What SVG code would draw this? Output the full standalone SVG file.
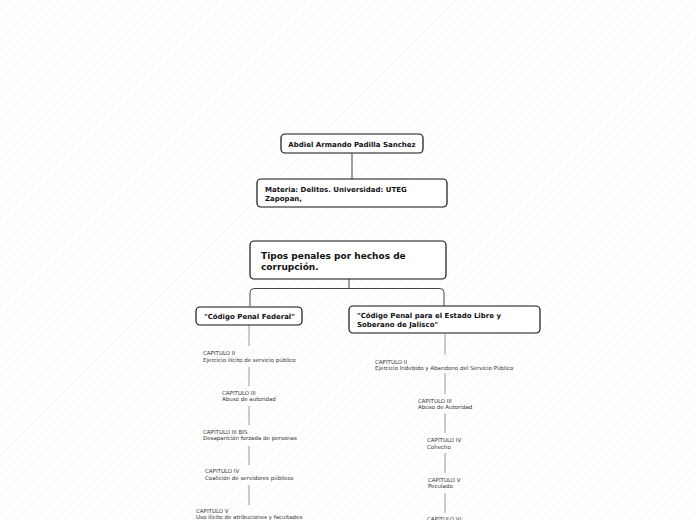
<svg xmlns="http://www.w3.org/2000/svg" width="696" height="520" viewBox="0 0 696 520">
<defs>
<pattern id="hatch" width="7" height="7" patternUnits="userSpaceOnUse" patternTransform="rotate(45)">
<rect width="7" height="7" fill="#ffffff"/>
<line x1="0" y1="0" x2="0" y2="7" stroke="#f6f6f6" stroke-width="1.6"/>
</pattern>
<style>
.box{fill:#ffffff;stroke:#111111;stroke-width:1.2}
.b{font-family:"DejaVu Sans",Verdana,sans-serif;font-weight:bold;fill:#111111}
.t{font-family:"DejaVu Sans",Verdana,sans-serif;font-size:5.5px;fill:#333333}
.main{fill:none;stroke:#444444;stroke-width:1}
.sub{fill:none;stroke:#999999;stroke-width:1}
</style>
</defs>
<rect width="696" height="520" fill="url(#hatch)"/>
<g id="connectors">
<path class="main" d="M352 153 V179"/>
<path class="main" d="M349 279 V288.5 M250 306 V292.5 Q250 288.5 254 288.5 H440 Q444 288.5 444 292.5 V306"/>
<path class="sub" d="M249 325 V346 M249 367 V386 M249 406 V425 M249 446 V465 M249 485 V505"/>
<path class="sub" d="M445 334 V355 M445 373 V394 M445 413 V433 M445 453 V473 M445 493 V513"/>
</g>
<g id="n-abdiel">
<rect class="box" x="281" y="134" width="142" height="19" rx="4"/>
<text class="b" x="352" y="146.5" font-size="7" text-anchor="middle">Abdiel Armando Padilla Sanchez</text>
</g>
<g id="n-materia">
<rect class="box" x="257" y="179" width="190" height="28" rx="4"/>
<text class="b" x="265" y="191.5" font-size="7">Materia: Delitos. Universidad: UTEG</text>
<text class="b" x="265" y="200.5" font-size="7">Zapopan,</text>
</g>
<g id="n-tipos">
<rect class="box" x="250" y="241" width="196" height="38" rx="4"/>
<text class="b" x="261" y="258.5" font-size="9">Tipos penales por hechos de</text>
<text class="b" x="261" y="269.5" font-size="9">corrupción.</text>
</g>
<g id="n-federal">
<rect class="box" x="196" y="307" width="106" height="18" rx="4"/>
<text class="b" x="204" y="318.5" font-size="7">"Código Penal Federal"</text>
</g>
<g id="n-jalisco">
<rect class="box" x="349" y="306" width="191" height="27" rx="4"/>
<text class="b" x="357" y="318" font-size="7">"Código Penal para el Estado Libre y</text>
<text class="b" x="357" y="326.5" font-size="7">Soberano de Jalisco"</text>
</g>
<g id="f-cap2"><text class="t" x="203" y="355">CAPITULO II</text><text class="t" x="203" y="361.5">Ejercicio ilícito de servicio público</text></g>
<g id="f-cap3"><text class="t" x="222" y="394.5">CAPITULO III</text><text class="t" x="222" y="401">Abuso de autoridad</text></g>
<g id="f-cap3bis"><text class="t" x="203" y="433.5">CAPITULO III BIS</text><text class="t" x="203" y="440">Desaparición forzada de personas</text></g>
<g id="f-cap4"><text class="t" x="205" y="473">CAPITULO IV</text><text class="t" x="205" y="479.5">Coalición de servidores públicos</text></g>
<g id="f-cap5"><text class="t" x="196" y="512.5">CAPITULO V</text><text class="t" x="196" y="519">Uso ilícito de atribuciones y facultades</text></g>
<g id="j-cap2"><text class="t" x="375" y="363.5">CAPÍTULO II</text><text class="t" x="375" y="370">Ejercicio Indebido y Abandono del Servicio Público</text></g>
<g id="j-cap3"><text class="t" x="418" y="402.5">CAPÍTULO III</text><text class="t" x="418" y="409">Abuso de Autoridad</text></g>
<g id="j-cap4"><text class="t" x="427" y="442">CAPÍTULO IV</text><text class="t" x="427" y="448.5">Cohecho</text></g>
<g id="j-cap5"><text class="t" x="428" y="481.5">CAPÍTULO V</text><text class="t" x="428" y="488">Peculado</text></g>
<g id="j-cap6"><text class="t" x="427" y="521">CAPÍTULO VI</text></g>
</svg>
